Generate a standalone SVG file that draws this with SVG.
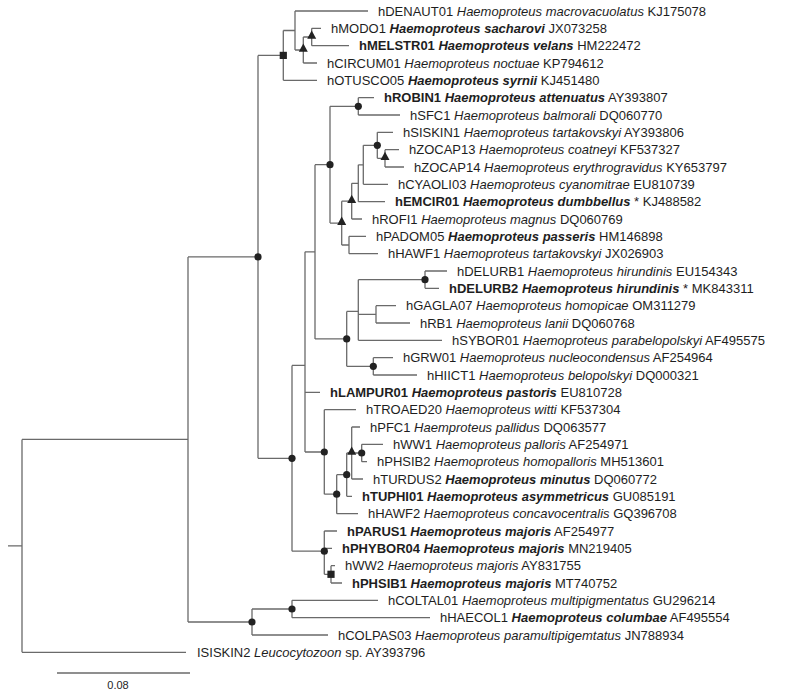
<svg xmlns="http://www.w3.org/2000/svg" xmlns:xlink="http://www.w3.org/1999/xlink" width="800" height="695" viewBox="0 0 800 695">
<style>
.br{fill:none;stroke:#6a6a6a;stroke-width:1.3}
text{font-family:"Liberation Sans",Arial,sans-serif;font-size:13px;fill:#1e1e1e}
.i{font-style:italic}
.b{font-weight:bold}
.bi{font-weight:bold;font-style:italic}
.mk{fill:#222}
.sc{font-size:11px}
</style>
<defs>
<circle id="dot" r="3.6"/>
<rect id="sq" x="-3.6" y="-3.6" width="7.2" height="7.2"/>
<path id="tri" d="M0,-6.5 L4.5,1.8 L-4.5,1.8 Z"/>
</defs>
<rect width="800" height="695" fill="#ffffff"/>
<g id="connectors">
<path class="br" d="M8 545.9H22M22 439.4V652.3M22 439.4H188M22 652.3H186"/>
<path class="br" d="M188 256.9V622M188 256.9H258M188 622H252"/>
<path class="br" d="M258 55.4V458.3M258 55.4H283.3M258 458.3H292"/>
<path class="br" d="M283.3 30.5V80.3M283.3 30.5H295M283.3 80.3H317"/>
<path class="br" d="M295 11V50M295 11H368M295 50H303.3"/>
<path class="br" d="M303.3 37V63M303.3 37H311.7M303.3 63H317"/>
<path class="br" d="M311.7 28.3V45.7M311.7 28.3H321M311.7 45.7H349"/>
<path class="br" d="M292 365.4V551.2M292 365.4H305M292 551.2H324.3"/>
<path class="br" d="M305 251.8V452M305 251.8H315M305 392.3H320M305 452H324.3"/>
<path class="br" d="M315 164.7V338.9M315 164.7H330M315 338.9H346.7"/>
<path class="br" d="M330 106.3V223.1M330 106.3H358.3M330 223.1H341.7"/>
<path class="br" d="M358.3 97.7V115M358.3 97.7H374M358.3 115H400"/>
<path class="br" d="M341.7 201.2V245M341.7 201.2H351.7M341.7 245H349"/>
<path class="br" d="M351.7 183.3V219M351.7 183.3H358.3M351.7 219H362"/>
<path class="br" d="M358.3 164.8V201.7M358.3 164.8H363.3M358.3 201.7H385"/>
<path class="br" d="M363.3 145.3V184.3M363.3 145.3H377.3M363.3 184.3H388"/>
<path class="br" d="M377.3 132.3V158.3M377.3 132.3H393M377.3 158.3H385"/>
<path class="br" d="M385 149.7V167M385 149.7H399M385 167H404"/>
<path class="br" d="M349 236.3V253.7M349 236.3H366M349 253.7H378"/>
<path class="br" d="M346.7 311.4V366.3M346.7 311.4H358.3M346.7 366.3H373.3"/>
<path class="br" d="M358.3 279.7V340.3M358.3 279.7H425M358.3 314.3H376M358.3 340.3H442"/>
<path class="br" d="M425 271V288.3M425 271H447M425 288.3H439"/>
<path class="br" d="M376 305.7V323M376 305.7H396M376 323H410"/>
<path class="br" d="M373.3 357.7V375M373.3 357.7H393M373.3 375H417"/>
<path class="br" d="M324.3 409.7V494.2M324.3 409.7H356M324.3 494.2H336.7"/>
<path class="br" d="M336.7 474.7V513.7M336.7 474.7H346.7M336.7 513.7H358"/>
<path class="br" d="M346.7 453V496.3M346.7 453H351.7M346.7 496.3H352"/>
<path class="br" d="M351.7 427V479M351.7 427H360M351.7 453H361.7M351.7 479H363"/>
<path class="br" d="M361.7 444.3V461.7M361.7 444.3H383M361.7 461.7H367"/>
<path class="br" d="M324.3 531V574.3M324.3 531H337M324.3 548.3H332M324.3 574.3H331"/>
<path class="br" d="M331 565.7V583M331 565.7H335M331 583H342"/>
<path class="br" d="M252 609V635M252 609H292M252 635H328"/>
<path class="br" d="M292 600.3V617.7M292 600.3H378M292 617.7H430"/>
</g>
<g id="internal-nodes" class="mk">
<g id="n-E"><use xlink:href="#dot" x="258" y="256.9"/></g>
<g id="n-A"><use xlink:href="#sq" x="283.3" y="55.4"/></g>
<g id="n-C"><use xlink:href="#tri" x="303.3" y="50"/></g>
<g id="n-D"><use xlink:href="#tri" x="311.7" y="37"/></g>
<g id="n-F"><use xlink:href="#dot" x="292" y="458.3"/></g>
<g id="n-J"><use xlink:href="#dot" x="330" y="164.7"/></g>
<g id="n-S"><use xlink:href="#dot" x="358.3" y="106.3"/></g>
<g id="n-K"><use xlink:href="#tri" x="341.7" y="223.1"/></g>
<g id="n-L"><use xlink:href="#tri" x="351.7" y="201.2"/></g>
<g id="n-O"><use xlink:href="#dot" x="377.3" y="145.3"/></g>
<g id="n-P"><use xlink:href="#tri" x="385" y="158.3"/></g>
<g id="n-I"><use xlink:href="#dot" x="346.7" y="338.9"/></g>
<g id="n-V1"><use xlink:href="#dot" x="425" y="279.7"/></g>
<g id="n-U"><use xlink:href="#dot" x="373.3" y="366.3"/></g>
<g id="n-W"><use xlink:href="#dot" x="324.3" y="452"/></g>
<g id="n-Z"><use xlink:href="#dot" x="336.7" y="494.2"/></g>
<g id="n-AA"><use xlink:href="#dot" x="346.7" y="474.7"/></g>
<g id="n-BB"><use xlink:href="#tri" x="351.7" y="453"/></g>
<g id="n-CC"><use xlink:href="#dot" x="361.7" y="453"/></g>
<g id="n-X"><use xlink:href="#dot" x="324.3" y="551.2"/></g>
<g id="n-Y"><use xlink:href="#sq" x="331" y="574.3"/></g>
<g id="n-COLP"><use xlink:href="#dot" x="252" y="622"/></g>
<g id="n-COLT"><use xlink:href="#dot" x="292" y="609"/></g>
</g>
<g id="leaves">
<g id="l01"><text x="378" y="15.6">hDENAUT01 <tspan class="i">Haemoproteus macrovacuolatus</tspan> KJ175078</text></g>
<g id="l02"><text x="331" y="32.9">hMODO1 <tspan class="bi">Haemoproteus sacharovi</tspan> JX073258</text></g>
<g id="l03"><text x="359" y="50.3"><tspan class="b">hMELSTR01</tspan> <tspan class="bi">Haemoproteus velans</tspan> HM222472</text></g>
<g id="l04"><text x="327" y="67.6">hCIRCUM01 <tspan class="i">Haemoproteus noctuae</tspan> KP794612</text></g>
<g id="l05"><text x="327" y="84.9">hOTUSCO05 <tspan class="bi">Haemoproteus syrnii</tspan> KJ451480</text></g>
<g id="l06"><text x="384" y="102.3"><tspan class="b">hROBIN1</tspan> <tspan class="bi">Haemoproteus attenuatus</tspan> AY393807</text></g>
<g id="l07"><text x="410" y="119.6">hSFC1 <tspan class="i">Haemoproteus balmorali</tspan> DQ060770</text></g>
<g id="l08"><text x="403" y="136.9">hSISKIN1 <tspan class="i">Haemoproteus tartakovskyi</tspan> AY393806</text></g>
<g id="l09"><text x="409" y="154.3">hZOCAP13 <tspan class="i">Haemoproteus coatneyi</tspan> KF537327</text></g>
<g id="l10"><text x="414" y="171.6">hZOCAP14 <tspan class="i">Haemoproteus erythrogravidus</tspan> KY653797</text></g>
<g id="l11"><text x="398" y="188.9">hCYAOLI03 <tspan class="i">Haemoproteus cyanomitrae</tspan> EU810739</text></g>
<g id="l12"><text x="395" y="206.3"><tspan class="b">hEMCIR01</tspan> <tspan class="bi">Haemoproteus dumbbellus</tspan> * KJ488582</text></g>
<g id="l13"><text x="372" y="223.6">hROFI1 <tspan class="i">Haemoproteus magnus</tspan> DQ060769</text></g>
<g id="l14"><text x="376" y="240.9">hPADOM05 <tspan class="bi">Haemoproteus passeris</tspan> HM146898</text></g>
<g id="l15"><text x="388" y="258.3">hHAWF1 <tspan class="i">Haemoproteus tartakovskyi</tspan> JX026903</text></g>
<g id="l16"><text x="457" y="275.6">hDELURB1 <tspan class="i">Haemoproteus hirundinis</tspan> EU154343</text></g>
<g id="l17"><text x="449" y="292.9"><tspan class="b">hDELURB2</tspan> <tspan class="bi">Haemoproteus hirundinis</tspan> * MK843311</text></g>
<g id="l18"><text x="406" y="310.3">hGAGLA07 <tspan class="i">Haemoproteus homopicae</tspan> OM311279</text></g>
<g id="l19"><text x="420" y="327.6">hRB1 <tspan class="i">Haemoproteus lanii</tspan> DQ060768</text></g>
<g id="l20"><text x="452" y="344.9">hSYBOR01 <tspan class="i">Haemoproteus parabelopolskyi</tspan> AF495575</text></g>
<g id="l21"><text x="403" y="362.3">hGRW01 <tspan class="i">Haemoproteus nucleocondensus</tspan> AF254964</text></g>
<g id="l22"><text x="427" y="379.6">hHIICT1 <tspan class="i">Haemoproteus belopolskyi</tspan> DQ000321</text></g>
<g id="l23"><text x="330" y="396.9"><tspan class="b">hLAMPUR01</tspan> <tspan class="bi">Haemoproteus pastoris</tspan> EU810728</text></g>
<g id="l24"><text x="366" y="414.3">hTROAED20 <tspan class="i">Haemoproteus witti</tspan> KF537304</text></g>
<g id="l25"><text x="370" y="431.6">hPFC1 <tspan class="i">Haemproteus pallidus</tspan> DQ063577</text></g>
<g id="l26"><text x="393" y="448.9">hWW1 <tspan class="i">Haemoproteus palloris</tspan> AF254971</text></g>
<g id="l27"><text x="377" y="466.3">hPHSIB2 <tspan class="i">Haemoproteus homopalloris</tspan> MH513601</text></g>
<g id="l28"><text x="373" y="483.6">hTURDUS2 <tspan class="bi">Haemoproteus minutus</tspan> DQ060772</text></g>
<g id="l29"><text x="362" y="500.9"><tspan class="b">hTUPHI01</tspan> <tspan class="bi">Haemoproteus asymmetricus</tspan> GU085191</text></g>
<g id="l30"><text x="368" y="518.3">hHAWF2 <tspan class="i">Haemoproteus concavocentralis</tspan> GQ396708</text></g>
<g id="l31"><text x="347" y="535.6"><tspan class="b">hPARUS1</tspan> <tspan class="bi">Haemoproteus majoris</tspan> AF254977</text></g>
<g id="l32"><text x="342" y="552.9"><tspan class="b">hPHYBOR04</tspan> <tspan class="bi">Haemoproteus majoris</tspan> MN219405</text></g>
<g id="l33"><text x="345" y="570.3">hWW2 <tspan class="i">Haemoproteus majoris</tspan> AY831755</text></g>
<g id="l34"><text x="352" y="587.6"><tspan class="b">hPHSIB1</tspan> <tspan class="bi">Haemoproteus majoris</tspan> MT740752</text></g>
<g id="l35"><text x="388" y="604.9">hCOLTAL01 <tspan class="i">Haemoproteus multipigmentatus</tspan> GU296214</text></g>
<g id="l36"><text x="440" y="622.3">hHAECOL1 <tspan class="bi">Haemoproteus columbae</tspan> AF495554</text></g>
<g id="l37"><text x="338" y="639.6">hCOLPAS03 <tspan class="i">Haemoproteus paramultipigemtatus</tspan> JN788934</text></g>
<g id="l38"><text x="197" y="656.9">ISISKIN2 <tspan class="i">Leucocytozoon</tspan> sp. AY393796</text></g>
</g>
<g id="scale-bar">
<path class="br" d="M57 673H190"/>
<text class="sc" x="118" y="689" text-anchor="middle">0.08</text>
</g>
</svg>
